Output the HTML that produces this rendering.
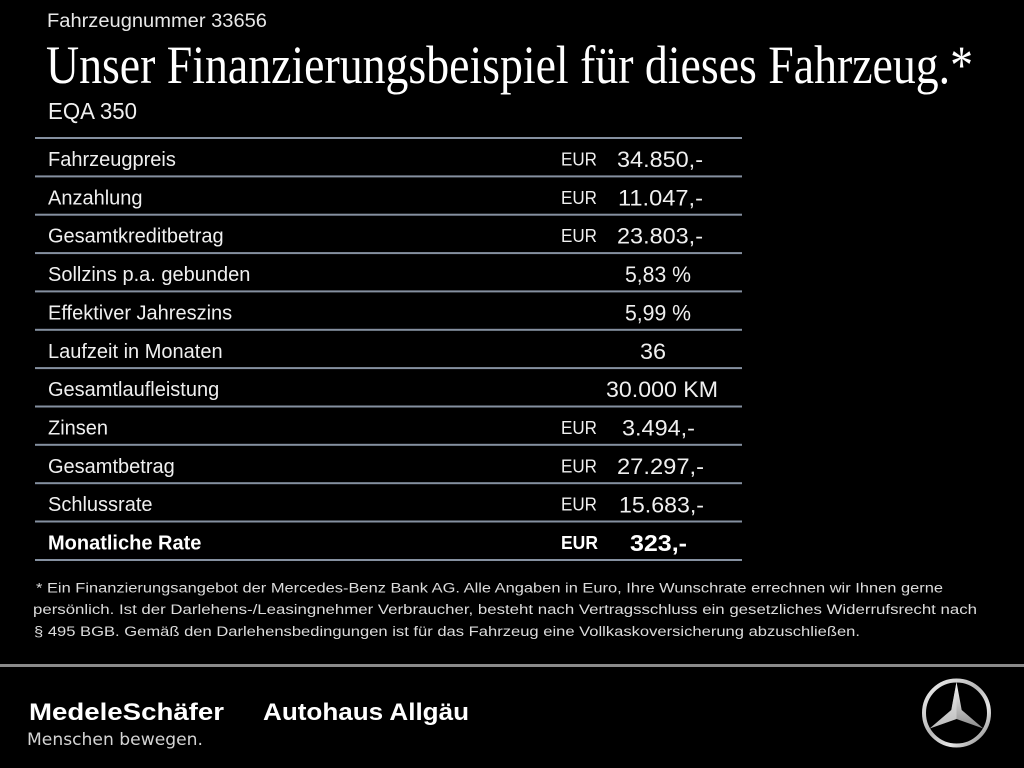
<!DOCTYPE html>
<html>
<head>
<meta charset="utf-8">
<style>
  html, body { margin: 0; padding: 0; background: #000; }
  body { width: 1024px; height: 768px; overflow: hidden; }
  svg { display: block; }
</style>
</head>
<body>
<svg width="1024" height="768" viewBox="0 0 1024 768" xmlns="http://www.w3.org/2000/svg">
  <defs>
    <linearGradient id="silver" x1="0" y1="0" x2="1" y2="1">
      <stop offset="0" stop-color="#f4f4f4"/>
      <stop offset="0.45" stop-color="#b8b8b8"/>
      <stop offset="0.7" stop-color="#e6e6e6"/>
      <stop offset="1" stop-color="#7a7a7a"/>
    </linearGradient>
    <linearGradient id="silver2" x1="0" y1="0" x2="0" y2="1">
      <stop offset="0" stop-color="#ffffff"/>
      <stop offset="0.5" stop-color="#c4c4c4"/>
      <stop offset="1" stop-color="#8a8a8a"/>
    </linearGradient>
  </defs>
  <rect x="0" y="0" width="1024" height="768" fill="#000"/>

  <!-- Header -->
  <text x="47" y="27" font-family="Liberation Sans, sans-serif" font-size="19" fill="#e8e8e8" textLength="220" lengthAdjust="spacingAndGlyphs">Fahrzeugnummer 33656</text>
  <text x="46" y="83" font-family="Liberation Serif, serif" font-size="54" fill="#ffffff" textLength="927" lengthAdjust="spacingAndGlyphs">Unser Finanzierungsbeispiel für dieses Fahrzeug.*</text>
  <text x="48" y="119" font-family="Liberation Sans, sans-serif" font-size="23" fill="#f0f0f0" textLength="89" lengthAdjust="spacingAndGlyphs">EQA 350</text>

  <!-- Table lines -->
  <g fill="#8590a0">
    <rect x="35" y="137" width="707" height="2"/>
    <rect x="35" y="175.4" width="707" height="2"/>
    <rect x="35" y="213.7" width="707" height="2"/>
    <rect x="35" y="252.1" width="707" height="2"/>
    <rect x="35" y="290.4" width="707" height="2"/>
    <rect x="35" y="328.8" width="707" height="2"/>
    <rect x="35" y="367.1" width="707" height="2"/>
    <rect x="35" y="405.5" width="707" height="2"/>
    <rect x="35" y="443.8" width="707" height="2"/>
    <rect x="35" y="482.2" width="707" height="2"/>
    <rect x="35" y="520.5" width="707" height="2"/>
    <rect x="35" y="559" width="707" height="2"/>
  </g>

  <!-- Labels -->
  <g font-family="Liberation Sans, sans-serif" font-size="20" fill="#f0f0f0">
    <text x="48" y="166">Fahrzeugpreis</text>
    <text x="48" y="204.4">Anzahlung</text>
    <text x="48" y="242.7">Gesamtkreditbetrag</text>
    <text x="48" y="281">Sollzins p.a. gebunden</text>
    <text x="48" y="319.4">Effektiver Jahreszins</text>
    <text x="48" y="357.8">Laufzeit in Monaten</text>
    <text x="48" y="396.1">Gesamtlaufleistung</text>
    <text x="48" y="434.5">Zinsen</text>
    <text x="48" y="472.8">Gesamtbetrag</text>
    <text x="48" y="511.2">Schlussrate</text>
    <text x="48" y="549.5" font-weight="bold" fill="#ffffff">Monatliche Rate</text>
  </g>

  <!-- EUR column -->
  <g font-family="Liberation Sans, sans-serif" font-size="18" fill="#f0f0f0">
    <text x="561" y="165.5" textLength="36" lengthAdjust="spacingAndGlyphs">EUR</text>
    <text x="561" y="203.9" textLength="36" lengthAdjust="spacingAndGlyphs">EUR</text>
    <text x="561" y="242.2" textLength="36" lengthAdjust="spacingAndGlyphs">EUR</text>
    <text x="561" y="434" textLength="36" lengthAdjust="spacingAndGlyphs">EUR</text>
    <text x="561" y="472.3" textLength="36" lengthAdjust="spacingAndGlyphs">EUR</text>
    <text x="561" y="510.7" textLength="36" lengthAdjust="spacingAndGlyphs">EUR</text>
    <text x="561" y="549" textLength="37" lengthAdjust="spacingAndGlyphs" font-weight="bold" fill="#ffffff">EUR</text>
  </g>

  <!-- Values -->
  <g font-family="Liberation Sans, sans-serif" font-size="22" fill="#f0f0f0">
    <text x="617" y="167" textLength="86" lengthAdjust="spacingAndGlyphs">34.850,-</text>
    <text x="618" y="205.4" textLength="85" lengthAdjust="spacingAndGlyphs">11.047,-</text>
    <text x="617" y="243.7" textLength="86" lengthAdjust="spacingAndGlyphs">23.803,-</text>
    <text x="625" y="282" textLength="66" lengthAdjust="spacingAndGlyphs">5,83 %</text>
    <text x="625" y="320.4" textLength="66" lengthAdjust="spacingAndGlyphs">5,99 %</text>
    <text x="640" y="358.8" textLength="26" lengthAdjust="spacingAndGlyphs">36</text>
    <text x="606" y="397.1" textLength="112" lengthAdjust="spacingAndGlyphs">30.000 KM</text>
    <text x="622" y="435.5" textLength="73" lengthAdjust="spacingAndGlyphs">3.494,-</text>
    <text x="617" y="474" textLength="87" lengthAdjust="spacingAndGlyphs">27.297,-</text>
    <text x="619" y="512.3" textLength="85" lengthAdjust="spacingAndGlyphs">15.683,-</text>
    <text x="630" y="551" textLength="57" lengthAdjust="spacingAndGlyphs" font-weight="bold" fill="#ffffff" font-size="23">323,-</text>
  </g>

  <!-- Footnote -->
  <g font-family="Liberation Sans, sans-serif" font-size="13.5" fill="#dcdcdc">
    <text x="36" y="592.5" textLength="907" lengthAdjust="spacingAndGlyphs">* Ein Finanzierungsangebot der Mercedes-Benz Bank AG. Alle Angaben in Euro, Ihre Wunschrate errechnen wir Ihnen gerne</text>
    <text x="33" y="614" textLength="944" lengthAdjust="spacingAndGlyphs">persönlich. Ist der Darlehens-/Leasingnehmer Verbraucher, besteht nach Vertragsschluss ein gesetzliches Widerrufsrecht nach</text>
    <text x="34" y="636" textLength="826" lengthAdjust="spacingAndGlyphs">§ 495 BGB. Gemäß den Darlehensbedingungen ist für das Fahrzeug eine Vollkaskoversicherung abzuschließen.</text>
  </g>

  <!-- Separator -->
  <rect x="0" y="664" width="1024" height="3" fill="#8a8a8a"/>

  <!-- Logos -->
  <text x="29" y="720" font-family="Liberation Sans, sans-serif" font-size="24" font-weight="bold" fill="#ffffff" textLength="195" lengthAdjust="spacingAndGlyphs">MedeleSchäfer</text>
  <text x="263" y="720" font-family="Liberation Sans, sans-serif" font-size="24" font-weight="bold" fill="#ffffff" textLength="206" lengthAdjust="spacingAndGlyphs">Autohaus Allgäu</text>
  <text x="27" y="745" font-family="DejaVu Sans, Liberation Sans, sans-serif" font-size="16.5" fill="#d4d4d4" textLength="176" lengthAdjust="spacingAndGlyphs">Menschen bewegen.</text>

  <!-- Mercedes star -->
  <g transform="translate(956.5,713)">
    <circle cx="0" cy="0" r="32.5" fill="none" stroke="url(#silver)" stroke-width="4"/>
    <polygon points="0,-31 5.2,-3 26.8,15.5 0,6 -26.8,15.5 -5.2,-3" fill="url(#silver2)"/>
    <polygon points="0,-31 0,6 -26.8,15.5 -5.2,-3" fill="#dedede" opacity="0.6"/>
  </g>
</svg>
</body>
</html>
